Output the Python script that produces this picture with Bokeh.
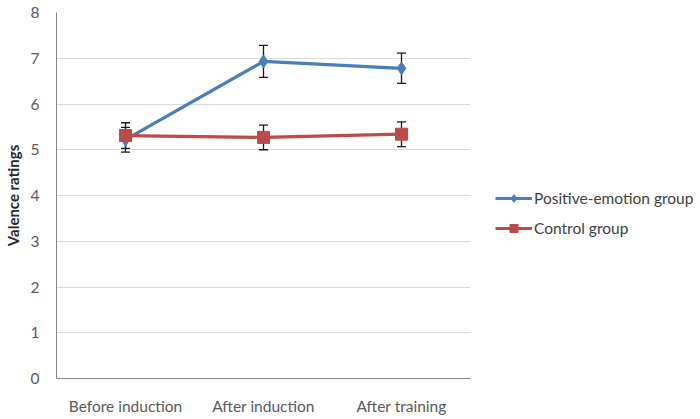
from bokeh.plotting import figure
from bokeh.models import FactorRange, Range1d, ColumnDataSource, Whisker, TeeHead, Legend, LegendItem, FixedTicker
from bokeh.embed import file_html
from bokeh.resources import INLINE

categories = ["Before induction", "After induction", "After training"]
positive = [5.22, 6.93, 6.78]
positive_err = [0.27, 0.35, 0.33]
control = [5.31, 5.27, 5.34]
control_err = [0.28, 0.27, 0.27]
series_names = ["Positive-emotion group", "Control group"]
y_ticks = [0, 1, 2, 3, 4, 5, 6, 7, 8]

FONT = "Lato"
BLUE = "#4a7ebb"
RED = "#be4b48"

p = figure(x_range=FactorRange(*categories, range_padding=0), y_range=Range1d(0, 8),
           frame_width=414, frame_height=366, min_border_left=40, min_border_top=12,
           min_border_bottom=30, min_border_right=0,
           output_backend="svg", toolbar_location=None)
p.outline_line_color = None
p.background_fill_color = "white"
p.border_fill_color = "white"

p.xgrid.grid_line_color = None
p.ygrid.grid_line_color = "#d9d9d9"
p.ygrid.grid_line_width = 1
p.yaxis.ticker = FixedTicker(ticks=y_ticks)

for ax in (p.xaxis, p.yaxis):
    ax.axis_line_color = "#868686"
    ax.major_tick_line_color = None
    ax.minor_tick_line_color = None
    ax.major_label_text_font = FONT
    ax.major_label_text_color = "#595959"
    ax.major_label_text_font_size = "15.5px"
p.yaxis.major_label_standoff = 11
p.xaxis.major_label_standoff = 12
p.yaxis.axis_label = "Valence ratings"
p.yaxis.axis_label_text_font = FONT
p.yaxis.axis_label_text_font_size = "15px"
p.yaxis.axis_label_text_font_style = "bold"
p.yaxis.axis_label_text_color = "#262626"
p.yaxis.axis_label_standoff = 6

def lower(v, e):
    return [a - b for a, b in zip(v, e)]

def upper(v, e):
    return [a + b for a, b in zip(v, e)]

src_p = ColumnDataSource(dict(x=categories, y=positive, lo=lower(positive, positive_err), hi=upper(positive, positive_err)))
src_c = ColumnDataSource(dict(x=categories, y=control, lo=lower(control, control_err), hi=upper(control, control_err)))

lp = p.line("x", "y", source=src_p, line_color=BLUE, line_width=3.2)
mp = p.scatter("x", "y", source=src_p, marker="diamond", size=13, fill_color=BLUE, line_color=BLUE)
lc = p.line("x", "y", source=src_c, line_color=RED, line_width=3.2)
mc = p.scatter("x", "y", source=src_c, marker="square", size=12, fill_color=RED, line_color=RED)

for src in (src_p, src_c):
    w = Whisker(source=src, base="x", upper="hi", lower="lo", line_color="#1a1a1a", line_width=1.3,
                upper_head=TeeHead(size=9, line_color="#1a1a1a", line_width=1.3),
                lower_head=TeeHead(size=9, line_color="#1a1a1a", line_width=1.3))
    p.add_layout(w)

legend = Legend(items=[LegendItem(label=series_names[0], renderers=[lp, mp]),
                       LegendItem(label=series_names[1], renderers=[lc, mc])],
                location=(25, 140))
legend.margin = 0
legend.padding = 0
legend.border_line_color = None
legend.background_fill_alpha = 0
legend.glyph_width = 37
legend.glyph_height = 20
legend.label_standoff = 2
legend.spacing = 10
legend.label_text_font = FONT
legend.label_text_font_size = "15.5px"
legend.label_text_color = "#404040"
legend.label_height = 20
p.add_layout(legend, "right")

open("out.html", "w").write(file_html(p, INLINE))
